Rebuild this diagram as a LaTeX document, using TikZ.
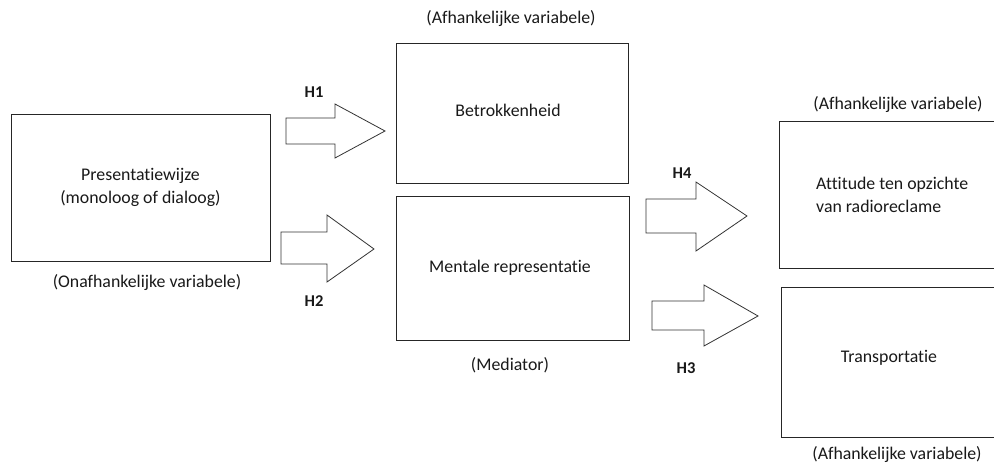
\documentclass[tikz,border=0pt]{standalone}
\usepackage{fontspec}
\setmainfont{Carlito}[Ligatures={NoCommon}]
\begin{document}
\begin{tikzpicture}[x=1pt,y=-1pt,
  box/.style={draw=black!85, line width=0.9pt, inner sep=0pt},
  lbl/.style={font=\fontsize{17.8}{22.5}\selectfont, text=black!90, inner sep=0pt},
  hlab/.style={font=\fontsize{16.5}{19}\selectfont\bfseries, text=black!90, inner sep=0pt},
  bigarrow/.style={draw=black!80, line width=0.8pt, fill=white, line join=miter}]
\clip (0,0) rectangle (994,465);
\fill[white] (0,0) rectangle (994,465);
% boxes
\node[box, minimum width=259pt, minimum height=147pt, lbl, align=center] (pres) at (140.5,187.5)
  {Presentatiewijze\\(monoloog of dialoog)};
\node[box, minimum width=232pt, minimum height=140pt] (betr) at (512,113) {};
\node[lbl] (betrt) at (508,110) {Betrokkenheid};
\node[box, minimum width=233pt, minimum height=144pt] (ment) at (512.5,268) {};
\node[lbl] (mentt) at (510,268) {Mentale representatie};
\node[box, minimum width=231pt, minimum height=147pt] (att) at (894.5,194.5) {};
\node[lbl, align=left, anchor=west] (attt) at (816,195) {Attitude ten opzichte\\van radioreclame};
\node[box, minimum width=229pt, minimum height=150pt] (trans) at (895.5,362) {};
\node[lbl] (transt) at (889,358) {Transportatie};
% captions
\node[lbl] (cap1) at (511,19) {(Afhankelijke variabele)};
\node[lbl] (cap2) at (147,283) {(Onafhankelijke variabele)};
\node[lbl] (cap3) at (510,365) {(Mediator)};
\node[lbl] (cap4) at (898,105) {(Afhankelijke variabele)};
\node[lbl] (cap5) at (897,455) {(Afhankelijke variabele)};
% block arrows
\draw[bigarrow] (286,118) -- (335,118) -- (335,104) -- (385,131) -- (335,158) -- (335,144) -- (286,144) -- cycle;
\draw[bigarrow] (281,232) -- (327,232) -- (327,215) -- (374,249) -- (327,282) -- (327,264) -- (281,264) -- cycle;
\draw[bigarrow] (646,199) -- (696,199) -- (696,182) -- (747,216) -- (696,251) -- (696,233) -- (646,233) -- cycle;
\draw[bigarrow] (652,301) -- (704,301) -- (704,285) -- (758,316) -- (704,346) -- (704,330) -- (652,330) -- cycle;
% hypothesis labels
\node[hlab] (h1) at (314,92) {H1};
\node[hlab] (h2) at (314,301) {H2};
\node[hlab] (h4) at (682,173) {H4};
\node[hlab] (h3) at (686,368) {H3};
\end{tikzpicture}
\end{document}
